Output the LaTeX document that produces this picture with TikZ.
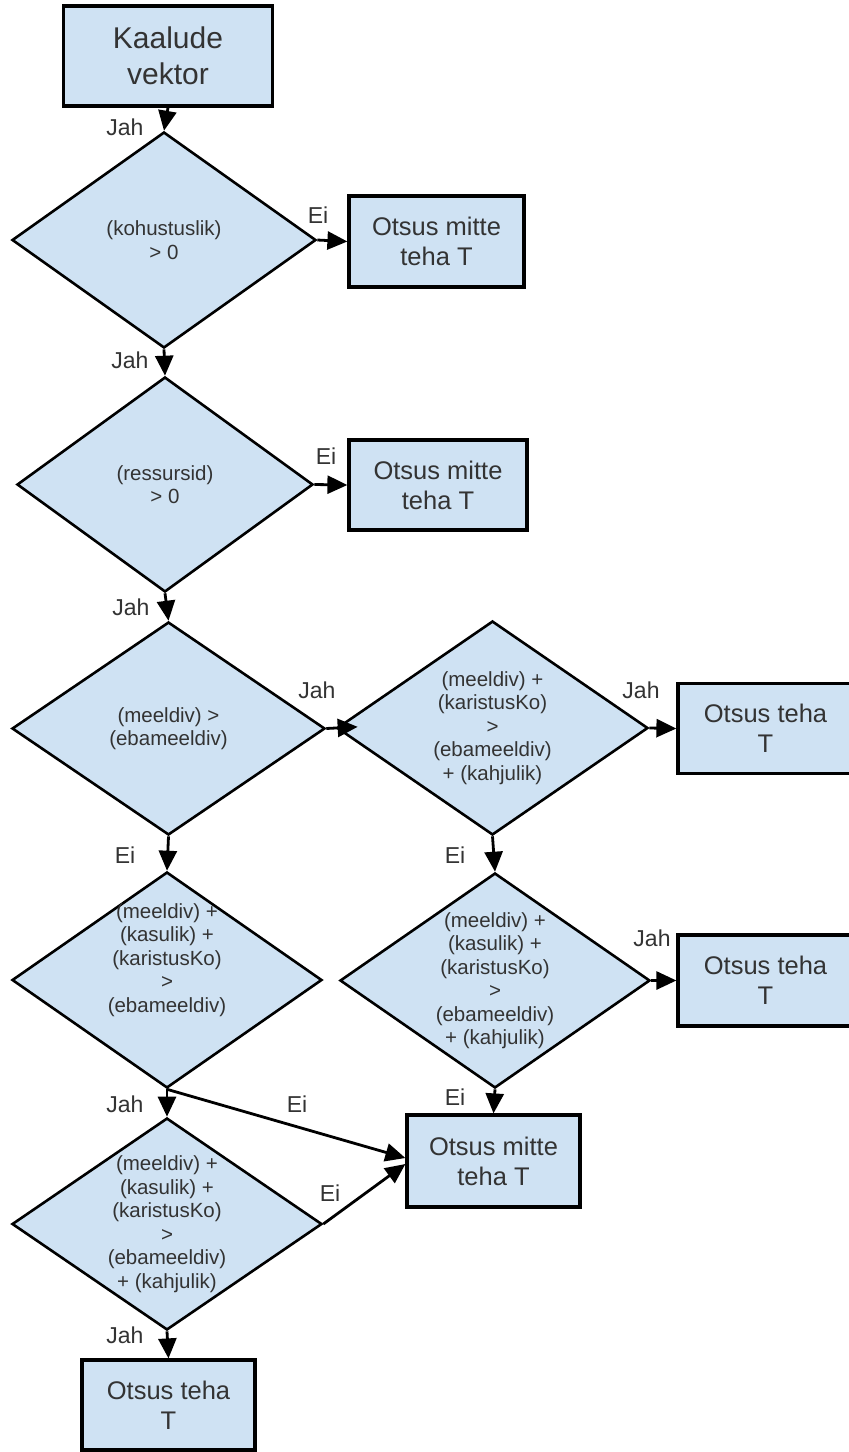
\documentclass[tikz,border=0pt]{standalone}
\usepackage{fontspec}
\setmainfont{Liberation Sans}
\usetikzlibrary{shapes.geometric,arrows.meta}
\definecolor{fillblue}{HTML}{CFE2F3}
\definecolor{txt}{HTML}{333333}
\begin{document}
\begin{tikzpicture}[x=1pt,y=-1pt,
 box/.style={draw=black, line width=3.2pt, fill=fillblue, inner sep=0pt, align=center, text=txt, font=\fontsize{25.5}{30}\selectfont},
 dia/.style={draw=black, line width=2.6pt, fill=fillblue, diamond, inner sep=0pt},
 dtext/.style={align=center, text=txt, inner sep=0pt, font=\fontsize{20.5}{23.5}\selectfont},
 lbl/.style={text=txt, inner sep=0pt, font=\fontsize{23}{27}\selectfont},
 arr/.style={line width=2.8pt, -{Triangle[length=20pt,width=18pt]}}]
\useasboundingbox (0,0) rectangle (849,1452);

% start
\node[box, minimum width=209, minimum height=100, font=\fontsize{30}{36}\selectfont] (b1) at (168,56) {Kaalude\\vektor};

% left column
\node[dia, minimum width=304, minimum height=216] (d1) at (164,240) {};
\node[dtext] (t1) at (d1) {(kohustuslik)\\> 0};
\node[box, minimum width=175, minimum height=91] (m1) at (436.5,241.5) {Otsus mitte\\teha T};

\node[dia, minimum width=296, minimum height=215] (d2) at (165,484.5) {};
\node[dtext] (t2) at (d2) {(ressursid)\\> 0};
\node[box, minimum width=178, minimum height=90] (m2) at (438,485) {Otsus mitte\\teha T};

\node[dia, minimum width=313, minimum height=213] (d3) at (168.5,728.5) {};
\node[dtext] (t3) at (d3) {(meeldiv) >\\(ebameeldiv)};

\node[dia, minimum width=310, minimum height=216] (d6) at (167,980) {};
\node[dtext] (t6) at (167,960) {(meeldiv) +\\(kasulik) +\\(karistusKo)\\>\\(ebameeldiv)};

\node[dia, minimum width=310, minimum height=212] (d7) at (167,1224) {};
\node[dtext] (t7) at (d7) {(meeldiv) +\\(kasulik) +\\(karistusKo)\\>\\(ebameeldiv)\\+ (kahjulik)};

\node[box, minimum width=173, minimum height=90] (e3) at (168.5,1405) {Otsus teha\\T};

% right column
\node[dia, minimum width=311, minimum height=214] (d4) at (492.5,728) {};
\node[dtext] (t4) at (d4) {(meeldiv) +\\(karistusKo)\\>\\(ebameeldiv)\\+ (kahjulik)};
\node[box, minimum width=175, minimum height=90] (e1) at (765.5,728.5) {Otsus teha\\T};

\node[dia, minimum width=310, minimum height=215] (d5) at (495,980.5) {};
\node[dtext] (t5) at (d5) {(meeldiv) +\\(kasulik) +\\(karistusKo)\\>\\(ebameeldiv)\\+ (kahjulik)};
\node[box, minimum width=175, minimum height=91] (e2) at (765.5,980.5) {Otsus teha\\T};

\node[box, minimum width=173, minimum height=92] (m3) at (493.5,1161) {Otsus mitte\\teha T};

% connectors
\draw[arr] (b1.south) -- (d1.north);
\draw[arr] (d1.east) -- (m1.west);
\draw[arr] (d1.south) -- (d2.north);
\draw[arr] (d2.east) -- (m2.west);
\draw[arr] (d2.south) -- (d3.north);
\draw[arr, shorten >=-22pt] (d3.east) -- (d4.west);
\draw[arr] (d4.east) -- (e1.west);
\draw[arr] (d3.south) -- (d6.north);
\draw[arr] (d4.south) -- (d5.north);
\draw[arr] (d5.east) -- (e2.west);
\draw[arr] (d5.south) -- (m3.north);
\draw[arr] (d6.south) -- (d7.north);
\draw[arr] (d6.south) -- ([yshift=3pt]m3.west);
\draw[arr] (d7.east) -- ([yshift=-3pt]m3.west);
\draw[arr] (d7.south) -- (e3.north);

% labels
\node[lbl] (l1) at (125,127) {Jah};
\node[lbl] (l2) at (318,215) {Ei};
\node[lbl] (l3) at (130,360) {Jah};
\node[lbl] (l4) at (326,456) {Ei};
\node[lbl] (l5) at (131,607) {Jah};
\node[lbl] (l6) at (317,690) {Jah};
\node[lbl] (l7) at (641,690) {Jah};
\node[lbl] (l8) at (125,855) {Ei};
\node[lbl] (l9) at (455,855) {Ei};
\node[lbl] (l10) at (652,938) {Jah};
\node[lbl] (l11) at (125,1104) {Jah};
\node[lbl] (l12) at (297,1104) {Ei};
\node[lbl] (l13) at (455,1097) {Ei};
\node[lbl] (l14) at (330,1193) {Ei};
\node[lbl] (l15) at (125,1335) {Jah};
\end{tikzpicture}
\end{document}
